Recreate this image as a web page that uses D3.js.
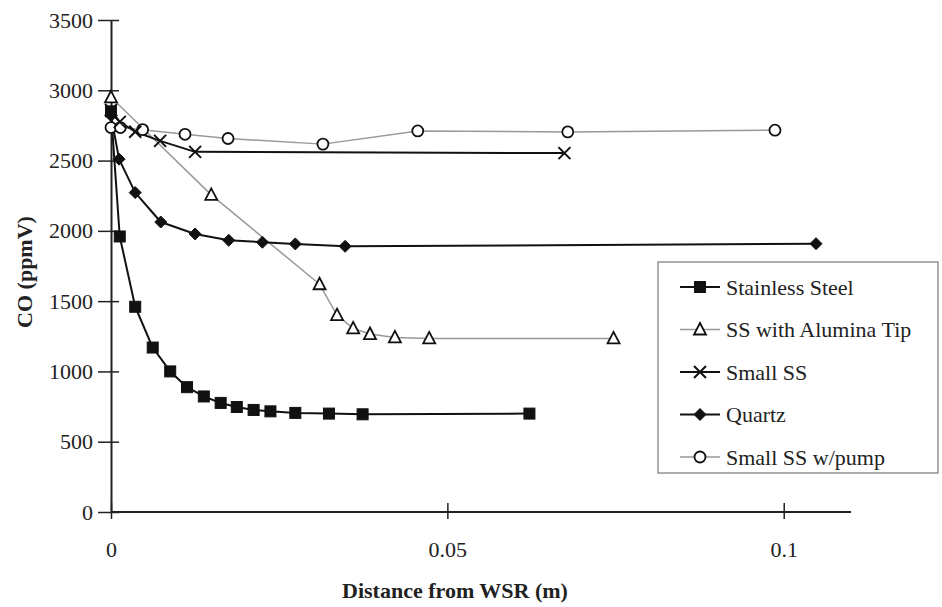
<!DOCTYPE html>
<html>
<head>
<meta charset="utf-8">
<script src="https://cdn.jsdelivr.net/npm/d3@7"></script>
<style>
  html, body { margin: 0; padding: 0; background: #fff; }
  svg { display: block; }
  svg text { font-family: "Liberation Serif", "Times New Roman", Tinos, serif; }
</style>
</head>
<body>
<svg id="chart" width="942" height="607"></svg>
<script>
// ---------- data ----------
const seriesNames = ["Stainless Steel", "SS with Alumina Tip", "Small SS", "Quartz", "Small SS w/pump"];

const stainlessX = [0, 0.0013, 0.0036, 0.0062, 0.0088, 0.0113, 0.0138, 0.0163, 0.0187, 0.0212, 0.0237, 0.0274, 0.0324, 0.0374, 0.0622];
const stainlessY = [2850, 1960, 1460, 1170, 1000, 888, 822, 776, 747, 726, 716, 705, 700, 695, 700];

const aluminaX = [0, 0.0149, 0.031, 0.0336, 0.036, 0.0385, 0.0422, 0.0473, 0.0747];
const aluminaY = [2950, 2256, 1620, 1400, 1306, 1266, 1242, 1235, 1235];

const smallX = [0, 0.0013, 0.0036, 0.0073, 0.0125, 0.0674];
const smallY = [2860, 2775, 2705, 2640, 2562, 2553];

const quartzX = [0, 0.0012, 0.0036, 0.0074, 0.0125, 0.0175, 0.0225, 0.0274, 0.0348, 0.1048];
const quartzY = [2820, 2510, 2272, 2063, 1978, 1933, 1919, 1907, 1890, 1909];

const pumpX = [0, 0.0014, 0.0047, 0.011, 0.0174, 0.0315, 0.0456, 0.0679, 0.0987];
const pumpY = [2735, 2735, 2720, 2687, 2657, 2617, 2711, 2704, 2716];

const xTicks = [0, 0.05, 0.1];
const xTickLabels = ["0", "0.05", "0.1"];
const yTicks = [0, 500, 1000, 1500, 2000, 2500, 3000, 3500];

// ---------- setup ----------
const FONT = "'Liberation Serif', 'Times New Roman', Tinos, serif";
const svg = d3.select("#chart");
const x = d3.scaleLinear().domain([0, 0.11]).range([111, 851]);
const y = d3.scaleLinear().domain([0, 3500]).range([512, 20]);

const series = [
  { name: seriesNames[0], xs: stainlessX, ys: stainlessY, marker: "square", color: "#111", width: 2 },
  { name: seriesNames[1], xs: aluminaX, ys: aluminaY, marker: "triangle", color: "#999", width: 1.5 },
  { name: seriesNames[2], xs: smallX, ys: smallY, marker: "cross", color: "#111", width: 2 },
  { name: seriesNames[3], xs: quartzX, ys: quartzY, marker: "diamond", color: "#111", width: 2 },
  { name: seriesNames[4], xs: pumpX, ys: pumpY, marker: "circle", color: "#999", width: 1.5 }
];

// ---------- axes ----------
const gx = svg.append("g").attr("transform", `translate(0,${y(0)})`)
  .call(d3.axisBottom(x).tickValues(xTicks).tickFormat((d, i) => xTickLabels[i]).tickSizeInner(7).tickSizeOuter(0).tickPadding(22));
gx.attr("font-family", null).attr("font-size", null);
gx.select(".domain").attr("stroke", "#222").attr("stroke-width", 2).attr("d", `M${x(0)},0H${x(0.11)}`);
gx.selectAll(".tick line").attr("stroke", "#222").attr("stroke-width", 1.5).attr("y1", -9);
gx.selectAll(".tick text").style("font-family", FONT).style("font-size", "22px").attr("fill", "#222");

const gy = svg.append("g").attr("transform", `translate(${x(0)},0)`)
  .call(d3.axisLeft(y).tickValues(yTicks).tickFormat(d3.format("d")).tickSizeInner(13).tickSizeOuter(0).tickPadding(5));
gy.attr("font-family", null).attr("font-size", null);
gy.select(".domain").attr("stroke", "#222").attr("stroke-width", 2);
gy.selectAll(".tick line").attr("stroke", "#222").attr("stroke-width", 1.5).attr("x2", -13).attr("x1", 8);
gy.selectAll(".tick text").style("font-family", FONT).style("font-size", "22px").attr("fill", "#222");

// axis titles
svg.append("text")
  .attr("x", 455).attr("y", 598)
  .attr("text-anchor", "middle")
  .style("font-family", FONT).style("font-size", "22px").style("font-weight", "bold").attr("fill", "#222")
  .text("Distance from WSR (m)");

svg.append("text")
  .attr("transform", "translate(32,272) rotate(-90)")
  .attr("text-anchor", "middle")
  .style("font-family", FONT).style("font-size", "22px").style("font-weight", "bold").attr("fill", "#222")
  .text("CO (ppmV)");

// ---------- markers ----------
function drawMarker(g, type, cx, cy) {
  if (type === "square") {
    g.append("rect").attr("x", cx - 5.5).attr("y", cy - 5.5).attr("width", 11).attr("height", 11)
      .attr("fill", "#111").attr("stroke", "#111").attr("stroke-width", 1);
  } else if (type === "triangle") {
    g.append("path").attr("d", `M${cx},${cy - 6.5}L${cx + 6},${cy + 5}L${cx - 6},${cy + 5}Z`)
      .attr("fill", "#fff").attr("stroke", "#111").attr("stroke-width", 1.8);
  } else if (type === "cross") {
    g.append("path").attr("d", `M${cx - 6},${cy - 6}L${cx + 6},${cy + 6}M${cx - 6},${cy + 6}L${cx + 6},${cy - 6}`)
      .attr("fill", "none").attr("stroke", "#111").attr("stroke-width", 2);
  } else if (type === "diamond") {
    g.append("path").attr("d", `M${cx},${cy - 6}L${cx + 6},${cy}L${cx},${cy + 6}L${cx - 6},${cy}Z`)
      .attr("fill", "#111").attr("stroke", "#111").attr("stroke-width", 1);
  } else if (type === "circle") {
    g.append("circle").attr("cx", cx).attr("cy", cy).attr("r", 5.5)
      .attr("fill", "#fff").attr("stroke", "#111").attr("stroke-width", 1.8);
  }
}

const line = d3.line().x(d => x(d[0])).y(d => y(d[1]));

const drawOrder = [1, 4, 0, 2, 3];
drawOrder.forEach(i => {
  const s = series[i];
  const pts = s.xs.map((v, k) => [v, s.ys[k]]);
  svg.append("path").datum(pts).attr("d", line)
    .attr("fill", "none").attr("stroke", s.color).attr("stroke-width", s.width).attr("stroke-linejoin", "round");
});
drawOrder.forEach(i => {
  const s = series[i];
  const g = svg.append("g");
  s.xs.forEach((v, k) => drawMarker(g, s.marker, x(v), y(s.ys[k])));
});

// ---------- legend ----------
const lg = svg.append("g");
lg.append("rect").attr("x", 658).attr("y", 262).attr("width", 280).attr("height", 211)
  .attr("fill", "#fff").attr("stroke", "#777").attr("stroke-width", 1.2);
series.forEach((s, i) => {
  const cy = 287 + i * 42.5;
  lg.append("line").attr("x1", 680).attr("x2", 720).attr("y1", cy).attr("y2", cy)
    .attr("stroke", s.color).attr("stroke-width", s.width);
  drawMarker(lg, s.marker, 700, cy);
  lg.append("text").attr("x", 726).attr("y", cy).attr("dy", "0.35em")
    .style("font-family", FONT).style("font-size", "22px").attr("fill", "#222").text(s.name);
});
</script>
</body>
</html>
